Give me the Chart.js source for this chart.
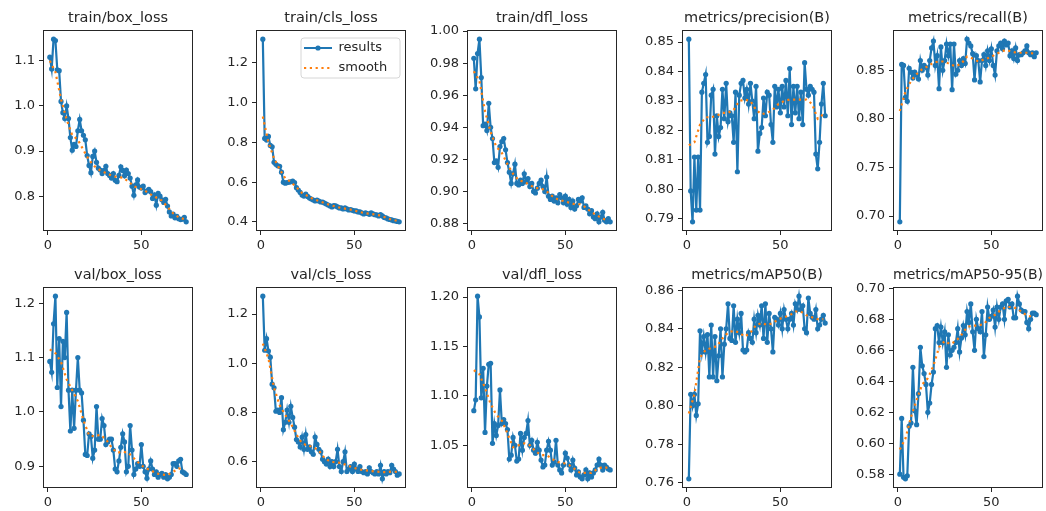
<!DOCTYPE html>
<html>
<head>
<meta charset="utf-8">
<script src="https://cdn.jsdelivr.net/npm/chart.js@4.4.1/dist/chart.umd.min.js"></script>
<style>
  html, body { margin: 0; padding: 0; background: #fff; overflow: hidden; width: 1046px; height: 511px; }
  canvas { position: absolute; }
</style>
</head>
<body>
<script>
// ---- data (74 epochs) ----
const trainBoxLoss = [
  1.108, 1.082, 1.148, 1.145, 1.080, 1.078, 1.010, 0.985, 0.972, 1.000,
  0.972, 0.930, 0.902, 0.915, 0.910, 0.945, 0.970, 0.945, 0.935, 0.925,
  0.890, 0.868, 0.852, 0.888, 0.900, 0.875, 0.862, 0.858, 0.850, 0.857,
  0.866, 0.850, 0.846, 0.840, 0.850, 0.835, 0.832, 0.846, 0.865, 0.857,
  0.845, 0.858, 0.850, 0.840, 0.822, 0.802, 0.825, 0.836, 0.820, 0.818,
  0.822, 0.808, 0.812, 0.815, 0.810, 0.795, 0.803, 0.780, 0.806, 0.800,
  0.792, 0.786, 0.793, 0.778, 0.765, 0.756, 0.760, 0.752, 0.755, 0.750,
  0.748, 0.749, 0.753, 0.743];
const trainClsLoss = [
  1.320, 0.820, 0.812, 0.830, 0.785, 0.778, 0.700, 0.690, 0.682, 0.680,
  0.650, 0.600, 0.595, 0.598, 0.600, 0.602, 0.605, 0.598, 0.572, 0.560,
  0.548, 0.535, 0.530, 0.540, 0.528, 0.520, 0.515, 0.510, 0.505, 0.510,
  0.505, 0.500, 0.500, 0.495, 0.490, 0.485, 0.480, 0.475, 0.482, 0.480,
  0.475, 0.470, 0.470, 0.465, 0.470, 0.465, 0.460, 0.462, 0.458, 0.455,
  0.455, 0.450, 0.450, 0.445, 0.440, 0.445, 0.442, 0.438, 0.445, 0.440,
  0.436, 0.435, 0.430, 0.436, 0.430, 0.422, 0.420, 0.415, 0.412, 0.410,
  0.406, 0.405, 0.402, 0.400];
const trainDflLoss = [
  0.983, 0.964, 0.986, 0.995, 0.971, 0.941, 0.942, 0.938, 0.955, 0.940,
  0.933, 0.918, 0.919, 0.915, 0.928, 0.931, 0.933, 0.926, 0.918, 0.912,
  0.905, 0.911, 0.917, 0.905, 0.904, 0.907, 0.905, 0.911, 0.906, 0.908,
  0.903, 0.905, 0.900, 0.899, 0.902, 0.905, 0.907, 0.903, 0.900, 0.909,
  0.897, 0.895, 0.897, 0.894, 0.896, 0.893, 0.898, 0.896, 0.893, 0.897,
  0.892, 0.895, 0.890, 0.894, 0.889, 0.891, 0.895, 0.894, 0.896, 0.890,
  0.891, 0.889, 0.886, 0.888, 0.884, 0.883, 0.886, 0.881, 0.884, 0.887,
  0.882, 0.881, 0.883, 0.881];
const precisionB = [
  0.851, 0.7995, 0.789, 0.811, 0.793, 0.811, 0.793, 0.833, 0.836, 0.839,
  0.816, 0.818, 0.832, 0.834, 0.812, 0.825, 0.818, 0.821, 0.834, 0.824,
  0.836, 0.823, 0.826, 0.825, 0.816, 0.833, 0.806, 0.832, 0.836, 0.837,
  0.831, 0.834, 0.829, 0.836, 0.830, 0.824, 0.835, 0.813, 0.819, 0.821,
  0.831, 0.825, 0.833, 0.832, 0.822, 0.816, 0.835, 0.828, 0.834, 0.826,
  0.835, 0.828, 0.837, 0.825, 0.841, 0.822, 0.835, 0.826, 0.835, 0.824,
  0.833, 0.822, 0.843, 0.834, 0.832, 0.835, 0.834, 0.833, 0.812, 0.807,
  0.816, 0.829, 0.836, 0.825];
const recallB = [
  0.694, 0.856, 0.855, 0.822, 0.818, 0.852, 0.848, 0.842, 0.848, 0.845,
  0.841, 0.860, 0.850, 0.855, 0.853, 0.845, 0.860, 0.873, 0.880, 0.855,
  0.865, 0.831, 0.874, 0.850, 0.860, 0.877, 0.865, 0.877, 0.830, 0.877,
  0.846, 0.850, 0.860, 0.855, 0.862, 0.857, 0.882, 0.878, 0.875, 0.867,
  0.840, 0.865, 0.860, 0.838, 0.860, 0.866, 0.855, 0.870, 0.860, 0.872,
  0.855, 0.845, 0.870, 0.875, 0.878, 0.872, 0.880, 0.876, 0.878, 0.865,
  0.870, 0.862, 0.873, 0.860, 0.866, 0.866, 0.868, 0.870, 0.875, 0.868,
  0.866, 0.868, 0.864, 0.868];
const valBoxLoss = [
  1.093, 1.073, 1.162, 1.213, 1.045, 1.135, 1.010, 1.130, 1.100, 1.183,
  1.040, 0.965, 1.040, 0.970, 1.040, 1.100, 1.040, 1.035, 0.985, 0.922,
  0.920, 0.960, 0.955, 0.915, 0.930, 1.010, 0.950, 0.950, 0.988, 0.975,
  0.940, 0.945, 0.950, 0.950, 0.930, 0.895, 0.890, 0.910, 0.935, 0.960,
  0.945, 0.890, 0.900, 0.975, 0.930, 0.885, 0.895, 0.905, 0.900, 0.940,
  0.900, 0.890, 0.878, 0.895, 0.910, 0.895, 0.885, 0.890, 0.880, 0.885,
  0.887, 0.880, 0.885, 0.877, 0.880, 0.885, 0.905, 0.905, 0.900, 0.910,
  0.913, 0.890, 0.888, 0.885];
const valClsLoss = [
  1.273, 1.053, 1.100, 1.050, 1.025, 0.915, 0.900, 0.805, 0.810, 0.800,
  0.860, 0.730, 0.760, 0.810, 0.760, 0.825, 0.780, 0.740, 0.690, 0.680,
  0.660, 0.700, 0.650, 0.710, 0.650, 0.660, 0.640, 0.630, 0.700, 0.670,
  0.650, 0.640, 0.610, 0.600, 0.590, 0.610, 0.580, 0.600, 0.580, 0.600,
  0.650, 0.580, 0.560, 0.600, 0.640, 0.560, 0.570, 0.580, 0.560, 0.590,
  0.570, 0.560, 0.580, 0.560, 0.555, 0.560, 0.550, 0.575, 0.560, 0.555,
  0.550, 0.560, 0.550, 0.585, 0.530, 0.560, 0.550, 0.560, 0.555, 0.585,
  0.570, 0.560, 0.545, 0.550];
const valDflLoss = [
  1.085, 1.096, 1.201, 1.180, 1.098, 1.128, 1.063, 1.110, 1.132, 1.133,
  1.052, 1.072, 1.060, 1.070, 1.106, 1.072, 1.076, 1.072, 1.066, 1.036,
  1.040, 1.058, 1.050, 1.034, 1.036, 1.062, 1.045, 1.058, 1.062, 1.075,
  1.050, 1.055, 1.045, 1.042, 1.053, 1.045, 1.035, 1.028, 1.030, 1.045,
  1.054, 1.045, 1.030, 1.033, 1.055, 1.030, 1.025, 1.022, 1.030, 1.042,
  1.037, 1.030, 1.025, 1.035, 1.027, 1.020, 1.023, 1.018, 1.016, 1.020,
  1.025, 1.016, 1.022, 1.018, 1.022, 1.025, 1.030, 1.036, 1.030, 1.025,
  1.030, 1.028, 1.026, 1.025];
const map50B = [
  0.762, 0.806, 0.800, 0.806, 0.795, 0.801, 0.839, 0.828, 0.836, 0.828,
  0.837, 0.815, 0.842, 0.815, 0.836, 0.813, 0.826, 0.840, 0.815, 0.832,
  0.840, 0.853, 0.835, 0.834, 0.852, 0.833, 0.845, 0.838, 0.848, 0.829,
  0.828, 0.829, 0.838, 0.835, 0.833, 0.845, 0.838, 0.847, 0.842, 0.852,
  0.835, 0.853, 0.833, 0.848, 0.840, 0.828, 0.846, 0.845, 0.842, 0.848,
  0.840, 0.850, 0.845, 0.840, 0.845, 0.848, 0.842, 0.853, 0.850, 0.857,
  0.850, 0.852, 0.840, 0.838, 0.856, 0.848, 0.846, 0.845, 0.850, 0.840,
  0.842, 0.845, 0.847, 0.843];
const map5095B = [
  0.580, 0.616, 0.578, 0.577, 0.579, 0.611, 0.613, 0.649, 0.621, 0.612,
  0.632, 0.662, 0.650, 0.645, 0.638, 0.620, 0.626, 0.638, 0.646, 0.674,
  0.676, 0.665, 0.675, 0.665, 0.672, 0.649, 0.670, 0.657, 0.660, 0.662,
  0.665, 0.674, 0.659, 0.668, 0.676, 0.670, 0.685, 0.678, 0.690, 0.672,
  0.660, 0.680, 0.674, 0.672, 0.685, 0.656, 0.670, 0.688, 0.680, 0.682,
  0.686, 0.675, 0.688, 0.680, 0.688, 0.690, 0.680, 0.692, 0.693, 0.688,
  0.690, 0.681, 0.681, 0.695, 0.690, 0.686, 0.685, 0.685, 0.678, 0.674,
  0.680, 0.684, 0.684, 0.683];

// smoothed curve, read at every third epoch
const smoothEpochs = [1, 4, 7, 10, 13, 16, 19, 22, 25, 28, 31, 34, 37, 40, 43, 46, 49, 52, 55, 58, 61, 64, 67, 70, 73];
const trainBoxSmooth = [1.100, 1.075, 1.015, 0.970, 0.935, 0.925, 0.902, 0.880, 0.866, 0.857, 0.851, 0.846, 0.842, 0.841, 0.833, 0.822, 0.817, 0.812, 0.804, 0.797, 0.790, 0.776, 0.762, 0.753, 0.749];
const trainClsSmooth = [0.930, 0.800, 0.720, 0.665, 0.620, 0.600, 0.575, 0.545, 0.530, 0.515, 0.505, 0.495, 0.485, 0.477, 0.470, 0.465, 0.460, 0.452, 0.445, 0.441, 0.437, 0.432, 0.421, 0.411, 0.405];
const trainDflSmooth = [0.975, 0.969, 0.950, 0.937, 0.928, 0.924, 0.917, 0.911, 0.907, 0.906, 0.904, 0.902, 0.902, 0.900, 0.897, 0.895, 0.894, 0.893, 0.892, 0.892, 0.890, 0.887, 0.885, 0.883, 0.882];
const precisionSmooth = [0.815, 0.816, 0.822, 0.8245, 0.8245, 0.825, 0.826, 0.826, 0.827, 0.830, 0.8305, 0.830, 0.827, 0.8255, 0.826, 0.827, 0.829, 0.830, 0.8305, 0.8305, 0.8305, 0.8305, 0.829, 0.824, 0.8255];
const recallSmooth = [0.808, 0.828, 0.839, 0.846, 0.851, 0.854, 0.858, 0.859, 0.859, 0.856, 0.854, 0.857, 0.864, 0.862, 0.859, 0.861, 0.863, 0.866, 0.869, 0.871, 0.869, 0.868, 0.868, 0.868, 0.867];
const valBoxSmooth = [1.115, 1.108, 1.092, 1.060, 1.040, 1.020, 0.985, 0.957, 0.955, 0.958, 0.950, 0.935, 0.925, 0.927, 0.925, 0.915, 0.905, 0.897, 0.893, 0.887, 0.885, 0.884, 0.890, 0.896, 0.894];
const valClsSmooth = [1.080, 1.020, 0.900, 0.830, 0.790, 0.755, 0.710, 0.675, 0.665, 0.660, 0.645, 0.615, 0.600, 0.597, 0.595, 0.585, 0.577, 0.570, 0.565, 0.563, 0.560, 0.558, 0.557, 0.560, 0.558];
const valDflSmooth = [1.126, 1.122, 1.108, 1.092, 1.081, 1.075, 1.062, 1.048, 1.050, 1.052, 1.050, 1.044, 1.040, 1.040, 1.036, 1.033, 1.032, 1.030, 1.026, 1.022, 1.022, 1.022, 1.026, 1.028, 1.027];
const map50Smooth = [0.796, 0.806, 0.825, 0.829, 0.830, 0.831, 0.835, 0.838, 0.839, 0.838, 0.836, 0.838, 0.842, 0.843, 0.842, 0.843, 0.845, 0.846, 0.847, 0.849, 0.849, 0.847, 0.846, 0.845, 0.845];
const map5095Smooth = [0.596, 0.603, 0.617, 0.628, 0.638, 0.642, 0.650, 0.662, 0.666, 0.664, 0.666, 0.670, 0.675, 0.676, 0.676, 0.677, 0.681, 0.683, 0.686, 0.688, 0.688, 0.687, 0.684, 0.682, 0.682];

// tick labels
const xTicks = [0, 50];
const trainBoxTicks = ['0.8', '0.9', '1.0', '1.1'];
const trainClsTicks = ['0.4', '0.6', '0.8', '1.0', '1.2'];
const trainDflTicks = ['0.88', '0.90', '0.92', '0.94', '0.96', '0.98', '1.00'];
const precisionTicks = ['0.79', '0.80', '0.81', '0.82', '0.83', '0.84', '0.85'];
const recallTicks = ['0.70', '0.75', '0.80', '0.85'];
const valBoxTicks = ['0.9', '1.0', '1.1', '1.2'];
const valClsTicks = ['0.6', '0.8', '1.0', '1.2'];
const valDflTicks = ['1.05', '1.10', '1.15', '1.20'];
const map50Ticks = ['0.76', '0.78', '0.80', '0.82', '0.84', '0.86'];
const map5095Ticks = ['0.58', '0.60', '0.62', '0.64', '0.66', '0.68', '0.70'];

const epochs = trainBoxLoss.map((v, i) => i + 1);

const panels = [
  {title: 'train/box_loss', y: trainBoxLoss, s: trainBoxSmooth, ticks: trainBoxTicks},
  {title: 'train/cls_loss', y: trainClsLoss, s: trainClsSmooth, ticks: trainClsTicks},
  {title: 'train/dfl_loss', y: trainDflLoss, s: trainDflSmooth, ticks: trainDflTicks},
  {title: 'metrics/precision(B)', y: precisionB, s: precisionSmooth, ticks: precisionTicks},
  {title: 'metrics/recall(B)', y: recallB, s: recallSmooth, ticks: recallTicks},
  {title: 'val/box_loss', y: valBoxLoss, s: valBoxSmooth, ticks: valBoxTicks},
  {title: 'val/cls_loss', y: valClsLoss, s: valClsSmooth, ticks: valClsTicks},
  {title: 'val/dfl_loss', y: valDflLoss, s: valDflSmooth, ticks: valDflTicks},
  {title: 'metrics/mAP50(B)', y: map50B, s: map50Smooth, ticks: map50Ticks},
  {title: 'metrics/mAP50-95(B)', y: map5095B, s: map5095Smooth, ticks: map5095Ticks},
];

// ---- look ----
const FONT = 'DejaVu Sans';
const blue = '#1f77b4', orange = '#ff7f0e', ink = '#262626';
const AXIS_W = 50, TITLE_H = 30, XAXIS_H = 25, PAD_R = 10, PLOT_W = 150, PLOT_H = 201;
const colLefts = [43, 256, 467, 682, 893];
const rowTops = [30, 287];

// box round the plot area (matplotlib spines)
const framePlugin = {
  id: 'frame',
  afterDatasetsDraw(chart) {
    const {ctx, chartArea: a} = chart;
    ctx.save();
    ctx.strokeStyle = ink;
    ctx.lineWidth = 1;
    ctx.strokeRect(Math.round(a.left) + 0.5, Math.round(a.top) + 0.5, Math.round(a.width) - 1, Math.round(a.height) - 1);
    ctx.restore();
  }
};

// put the legend in the upper right corner, inside a framed box
const legendBox = {
  id: 'legendBox',
  afterLayout(chart) {
    const lg = chart.legend;
    if (!lg || !lg.options.display) return;
    const a = chart.chartArea, lab = lg.options.labels;
    const fs = lab.font.size, pad = lab.padding;
    const handleLeft = a.right - 102, row1 = a.top + 18;
    lg.left = handleLeft - pad;
    lg.top = row1 - fs / 2 - pad;
    lg.width = 110; lg.right = lg.left + lg.width;
    lg.height = 2 * (fs + pad) + pad + 2; lg.bottom = lg.top + lg.height;
    chart.$legFrame = {x: a.right - 105, y: a.top + 8, w: 99, h: 40, hx: handleLeft, hy: row1, hw: lab.pointStyleWidth};
  },
  beforeDraw(chart) {
    const f = chart.$legFrame;
    if (!f) return;
    const ctx = chart.ctx, r = 3;
    ctx.save();
    ctx.beginPath();
    ctx.moveTo(f.x + r, f.y);
    ctx.arcTo(f.x + f.w, f.y, f.x + f.w, f.y + f.h, r);
    ctx.arcTo(f.x + f.w, f.y + f.h, f.x, f.y + f.h, r);
    ctx.arcTo(f.x, f.y + f.h, f.x, f.y, r);
    ctx.arcTo(f.x, f.y, f.x + f.w, f.y, r);
    ctx.closePath();
    ctx.fillStyle = 'rgba(255,255,255,0.8)';
    ctx.fill();
    ctx.strokeStyle = '#d6d6d6';
    ctx.lineWidth = 1;
    ctx.stroke();
    ctx.restore();
  },
  afterDraw(chart) {
    const f = chart.$legFrame;
    if (!f) return;
    const ctx = chart.ctx;
    ctx.save();
    ctx.fillStyle = blue;
    ctx.beginPath();
    ctx.arc(f.hx + f.hw / 2, f.hy, 2.6, 0, Math.PI * 2);
    ctx.fill();
    ctx.restore();
  }
};

// legend entries drawn as short line handles, in dataset order
function lineLabels(chart) {
  return chart.data.datasets.map((d, k) => ({
    text: d.label,
    datasetIndex: k,
    pointStyle: 'line',
    strokeStyle: d.borderColor,
    fillStyle: d.borderColor,
    lineWidth: d.borderWidth,
    lineDash: d.borderDash || [],
    lineCap: 'butt',
    fontColor: ink,
    hidden: false
  }));
}

function makeChart(p, i) {
  const col = i % 5, row = Math.floor(i / 5);
  const canvas = document.createElement('canvas');
  canvas.width = AXIS_W + PLOT_W + PAD_R;
  canvas.height = TITLE_H + PLOT_H + XAXIS_H;
  canvas.style.left = (colLefts[col] - AXIS_W) + 'px';
  canvas.style.top = (rowTops[row] - TITLE_H) + 'px';
  document.body.appendChild(canvas);

  // matplotlib style autoscale: 5% margin round the data
  const all = p.y.concat(p.s);
  const lo = Math.min(...all), hi = Math.max(...all), m = (hi - lo) * 0.05;
  const x0 = epochs[0], x1 = epochs[epochs.length - 1], mx = (x1 - x0) * 0.05;
  const tickVals = p.ticks.map(Number);
  const tickFont = {family: FONT, size: 13};

  new Chart(canvas, {
    type: 'line',
    data: {
      datasets: [
        {
          label: 'results',
          data: p.y.map((v, k) => ({x: epochs[k], y: v})),
          borderColor: blue, backgroundColor: blue, borderWidth: 2.2,
          pointRadius: 2.6, pointBorderWidth: 0, pointBackgroundColor: blue,
          order: 1
        },
        {
          label: 'smooth',
          data: p.s.map((v, k) => ({x: smoothEpochs[k], y: v})),
          borderColor: orange, backgroundColor: orange, borderWidth: 2.2,
          borderDash: [2.2, 3.6], pointRadius: 0,
          order: 0
        }
      ]
    },
    options: {
      responsive: false,
      animation: false,
      events: [],
      devicePixelRatio: 1,
      layout: {padding: {left: 0, right: PAD_R, top: 0, bottom: 0}},
      scales: {
        x: {
          type: 'linear', min: x0 - mx, max: x1 + mx,
          afterBuildTicks: s => { s.ticks = xTicks.map(v => ({value: v})); },
          afterFit: s => { s.height = XAXIS_H; },
          ticks: {font: tickFont, color: ink, padding: 3, maxRotation: 0, autoSkip: false},
          grid: {display: true, drawOnChartArea: false, drawTicks: true, tickLength: 4, color: ink},
          border: {display: false}
        },
        y: {
          min: lo - m, max: hi + m,
          afterBuildTicks: s => { s.ticks = tickVals.map(v => ({value: v})); },
          afterFit: s => { s.width = AXIS_W; },
          ticks: {font: tickFont, color: ink, padding: 4, autoSkip: false, callback: (v, k) => p.ticks[k]},
          grid: {display: true, drawOnChartArea: false, drawTicks: true, tickLength: 4, color: ink},
          border: {display: false}
        }
      },
      plugins: {
        tooltip: {enabled: false},
        title: {
          display: true, text: p.title, fullSize: false, color: ink,
          font: {family: FONT, size: 14.5, weight: 'normal'},
          padding: {top: 9.1, bottom: 3.5}
        },
        legend: {
          display: i === 1,
          position: 'chartArea',
          align: 'start',
          labels: {
            usePointStyle: true, pointStyleWidth: 28, boxHeight: 13,
            font: {family: FONT, size: 13}, color: ink, padding: 7,
            generateLabels: lineLabels
          }
        }
      }
    },
    plugins: [framePlugin, legendBox]
  });
}

panels.forEach(makeChart);
</script>
</body>
</html>
